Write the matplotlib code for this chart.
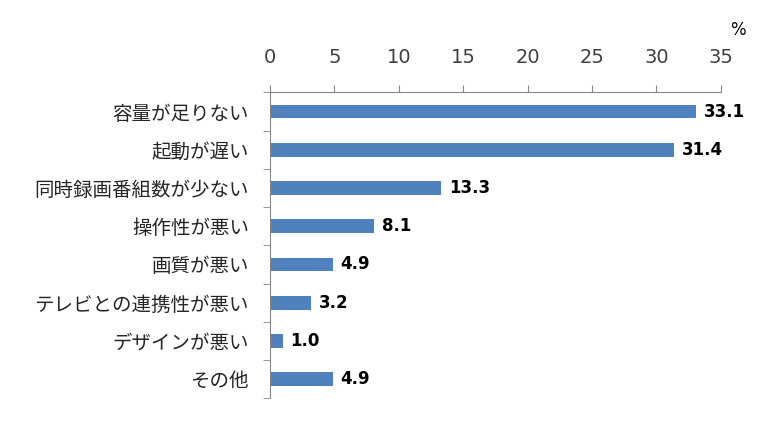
import numpy as np
import matplotlib.pyplot as plt

plt.rcParams['font.family'] = ['Noto Sans CJK JP', 'DejaVu Sans']

categories = ['容量が足りない', '起動が遅い', '同時録画番組数が少ない', '操作性が悪い',
              '画質が悪い', 'テレビとの連携性が悪い', 'デザインが悪い', 'その他']
values = [33.1, 31.4, 13.3, 8.1, 4.9, 3.2, 1.0, 4.9]
xticks = [0, 5, 10, 15, 20, 25, 30, 35]

bar_color = '#4F81BD'
axis_color = '#868686'
text_color = '#404040'


def main():
    fig = plt.figure(figsize=(7.58, 4.30), dpi=100)
    ax = fig.add_axes([0.356, 0.074, 0.595, 0.711])

    y = np.arange(len(categories))
    ax.barh(y, values, height=0.36, color=bar_color, zorder=2)
    for yi, v in zip(y, values):
        ax.text(v + 0.6, yi, f'{v:.1f}', va='center', ha='left',
                fontsize=12, fontweight='bold', color='black',
                family='DejaVu Sans')

    ax.set_xlim(0, 35)
    ax.set_ylim(len(categories) - 0.5, -0.5)
    ax.xaxis.tick_top()
    ax.set_xticks(xticks)
    ax.set_xticklabels([str(t) for t in xticks], fontsize=14, color=text_color,
                       family='DejaVu Sans')
    ax.tick_params(axis='x', direction='out', length=5, color=axis_color, pad=13)

    # category labels centered on bars, ticks at boundaries
    ax.set_yticks(y)
    ax.set_yticklabels(categories, fontsize=14, color='#262626')
    ax.tick_params(axis='y', which='major', length=0, pad=15)
    ax.set_yticks(np.arange(len(categories) + 1) - 0.5, minor=True)
    ax.tick_params(axis='y', which='minor', length=5, color=axis_color, direction='out')

    for s in ['right', 'bottom']:
        ax.spines[s].set_visible(False)
    for s in ['top', 'left']:
        ax.spines[s].set_color(axis_color)
        ax.spines[s].set_linewidth(0.8)

    fig.text(0.974, 0.93, '%', fontsize=12, color='black', ha='center', va='center',
             family='DejaVu Sans')

    fig.savefig('out.png', dpi=100)


main()
